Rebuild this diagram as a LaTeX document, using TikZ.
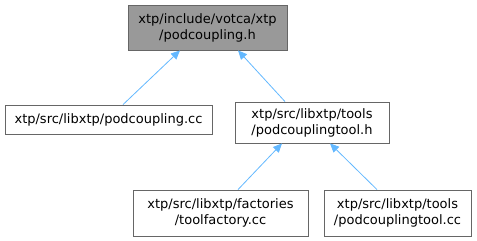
\documentclass[tikz,border=0pt]{standalone}
\usepackage{fontspec}
\setmainfont{DejaVu Sans}
\usetikzlibrary{arrows.meta}
\definecolor{edgeblue}{HTML}{63B8FF}
\definecolor{boxborder}{HTML}{666666}
\definecolor{topfill}{HTML}{999999}
\tikzset{
  filebox/.style={draw=boxborder, line width=0.8pt, fill=white, inner sep=0pt, align=center, font=\fontsize{13}{16}\selectfont},
  edge/.style={draw=edgeblue, line width=0.8pt, {Triangle[length=9pt,width=8pt]}-},
}
\begin{document}
\begin{tikzpicture}[x=1pt,y=-1pt]
\useasboundingbox (0,0) rectangle (477,241);
\node[filebox, fill=topfill, minimum width=159pt, minimum height=45pt] (top) at (207.5,27.5) {xtp/include/votca/xtp\\/podcoupling.h};
\node[filebox, minimum width=207pt, minimum height=29pt] (a) at (108.5,119.5) {xtp/src/libxtp/podcoupling.cc};
\node[filebox, minimum width=154pt, minimum height=41pt] (b) at (312,122.5) {xtp/src/libxtp/tools\\/podcouplingtool.h};
\node[filebox, minimum width=175pt, minimum height=46pt] (c) at (220.5,213) {xtp/src/libxtp/factories\\/toolfactory.cc};
\node[filebox, minimum width=147pt, minimum height=46pt] (d) at (397.5,213) {xtp/src/libxtp/tools\\/podcouplingtool.cc};
\draw[edge] ([xshift=-27.5pt]top.south) -- ([xshift=14.5pt]a.north);
\draw[edge] ([xshift=30.5pt]top.south) -- ([xshift=-27pt]b.north);
\draw[edge] ([xshift=-30pt]b.south) -- ([xshift=17.5pt]c.north);
\draw[edge] ([xshift=18pt]b.south) -- ([xshift=-20.5pt]d.north);
\end{tikzpicture}
\end{document}
